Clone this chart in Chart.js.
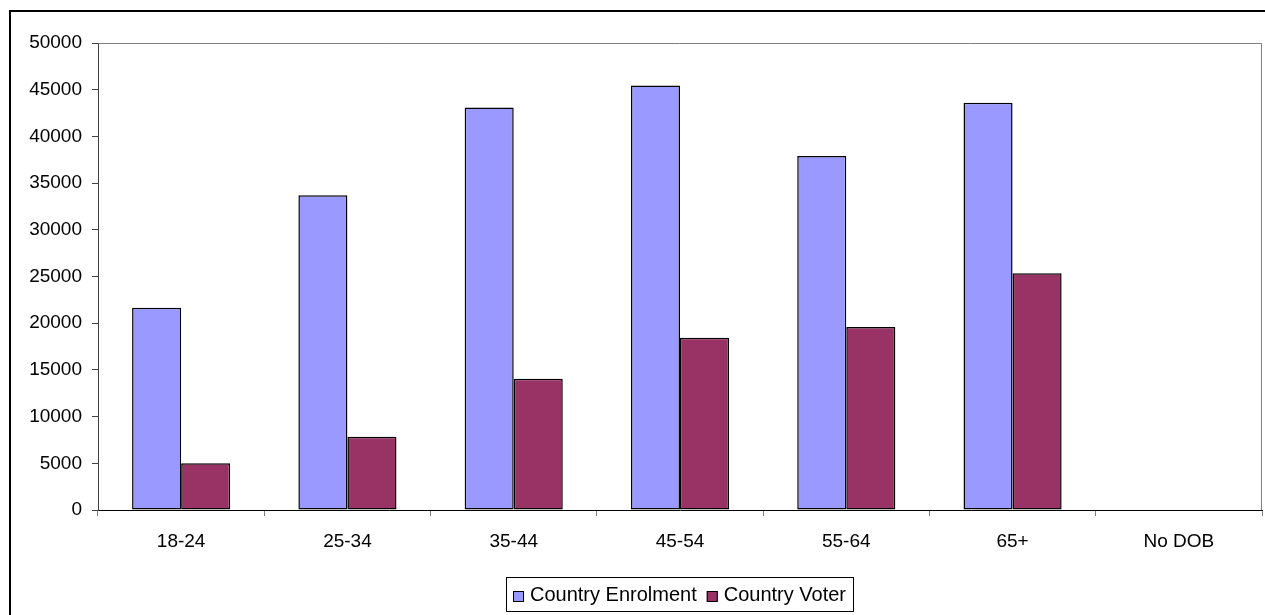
<!DOCTYPE html>
<html>
<head>
<meta charset="utf-8">
<script src="https://cdn.jsdelivr.net/npm/chart.js@4.4.0/dist/chart.umd.min.js"></script>
<style>
    body { margin: 0; background: #fff; }
    #wrap { width: 1265px; height: 615px; }
</style>
</head>
<body>
<div id="wrap"><canvas id="ageChart"></canvas></div>
<script>
var ageGroups = ['18-24', '25-34', '35-44', '45-54', '55-64', '65+', 'No DOB'];
var enrolment = [21650, 33700, 43100, 45450, 37900, 43600, 0];
var voter = [5000, 7850, 14050, 18450, 19600, 25350, 0];
var yTicks = { min: 0, max: 50000, step: 5000 };

var fontFamily = '"Liberation Sans", Arial, sans-serif';

// outer frame, top/right plot border and the boxed legend under the axis
var excelLook = {
    id: 'excelLook',
    afterDraw: function (chart) {
        var ctx = chart.ctx;
        var area = chart.chartArea;
        ctx.save();

        ctx.strokeStyle = '#000';
        ctx.lineWidth = 2;
        ctx.strokeRect(10, 11, 1300, 700);

        ctx.strokeStyle = '#808080';
        ctx.lineWidth = 1;
        ctx.beginPath();
        ctx.moveTo(area.left, area.top + 0.5);
        ctx.lineTo(area.right - 0.5, area.top + 0.5);
        ctx.lineTo(area.right - 0.5, area.bottom);
        ctx.stroke();

        ctx.font = '20px ' + fontFamily;
        ctx.textBaseline = 'middle';
        var sw = 11, gap = 6, sep = 10, pad = 7;
        var items = chart.data.datasets.map(function (ds) {
            return { text: ds.label, color: ds.backgroundColor, w: ctx.measureText(ds.label).width };
        });
        var total = pad * 2;
        items.forEach(function (it, i) {
            total += sw + gap + it.w + (i > 0 ? sep : 0);
        });
        var boxTop = 577, boxH = 34;
        var x = Math.round((area.left + area.right) / 2 - total / 2);
        ctx.strokeStyle = '#000';
        ctx.strokeRect(x + 0.5, boxTop + 0.5, Math.round(total), boxH);
        var cy = boxTop + boxH / 2 + 1;
        x += pad;
        items.forEach(function (it, i) {
            if (i > 0) x += sep;
            ctx.fillStyle = it.color;
            ctx.fillRect(x, Math.round(cy - sw / 2) + 1, sw, sw);
            ctx.strokeStyle = '#000';
            ctx.strokeRect(x + 0.5, Math.round(cy - sw / 2) + 1.5, sw - 1, sw - 1);
            x += sw + gap;
            ctx.fillStyle = '#000';
            ctx.fillText(it.text, x, cy);
            x += it.w;
        });
        ctx.restore();
    }
};

new Chart(document.getElementById('ageChart'), {
    type: 'bar',
    data: {
        labels: ageGroups,
        datasets: [
            {
                label: 'Country Enrolment',
                data: enrolment,
                backgroundColor: '#9999FF',
                borderColor: '#000',
                borderWidth: 1.5,
                borderSkipped: false
            },
            {
                label: 'Country Voter',
                data: voter,
                backgroundColor: '#993366',
                borderColor: '#000',
                borderWidth: 1.5,
                borderSkipped: false
            }
        ]
    },
    options: {
        responsive: true,
        maintainAspectRatio: false,
        animation: false,
        layout: { padding: { left: 0, top: 43, right: 3, bottom: 0 } },
        datasets: { bar: { categoryPercentage: 0.59, barPercentage: 1.0 } },
        plugins: {
            legend: { display: false },
            tooltip: { enabled: false }
        },
        scales: {
            x: {
                afterFit: function (scale) { scale.height = 105; },
                grid: {
                    offset: true,
                    drawOnChartArea: false,
                    tickLength: 6,
                    color: '#808080'
                },
                border: { display: true, color: '#000', width: 1 },
                ticks: {
                    color: '#000',
                    padding: 14,
                    font: { family: fontFamily, size: 19 }
                }
            },
            y: {
                min: yTicks.min,
                max: yTicks.max,
                afterFit: function (scale) { scale.width = 98; },
                grid: {
                    drawOnChartArea: false,
                    tickLength: 6,
                    color: '#404040'
                },
                border: { display: true, color: '#404040', width: 1 },
                ticks: {
                    stepSize: yTicks.step,
                    color: '#000',
                    padding: 10,
                    font: { family: fontFamily, size: 19 },
                    callback: function (value) { return String(value); }
                }
            }
        }
    },
    plugins: [excelLook]
});
</script>
</body>
</html>
